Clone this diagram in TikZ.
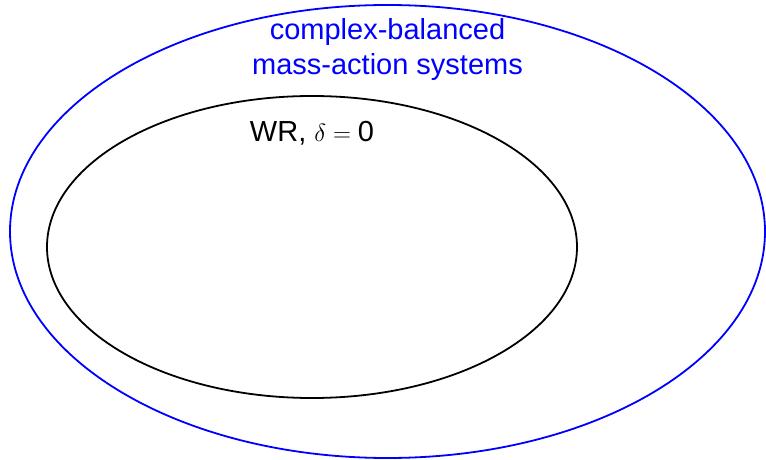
\documentclass[tikz,border=0pt]{standalone}
\usepackage{fontspec}
\setmainfont{Liberation Sans}
\begin{document}
\begin{tikzpicture}[x=1pt, y=-1pt, line width=1.8pt,
  lbl/.style={anchor=base, inner sep=0pt, align=center,
    font=\fontsize{29}{35.5}\selectfont}]

  %% ════ 椭圆 ════
  \draw[blue] (387.5,231.5) ellipse [x radius=377.5, y radius=226.5];
  \draw[black] (312.0,247.0) ellipse [x radius=265.0, y radius=151.0];

  %% ════ 标签 ════
  \node[lbl, text=blue] (cbmas) at (387.5,74.5) {complex-balanced\\mass-action systems};
  \node[lbl] (wr) at (312.0,141.0) {WR, $\delta = \hbox{0}$};

  % 钉死画布
  \pgfresetboundingbox
  \path[use as bounding box] (0,0) rectangle (766,460);
\end{tikzpicture}
\end{document}
